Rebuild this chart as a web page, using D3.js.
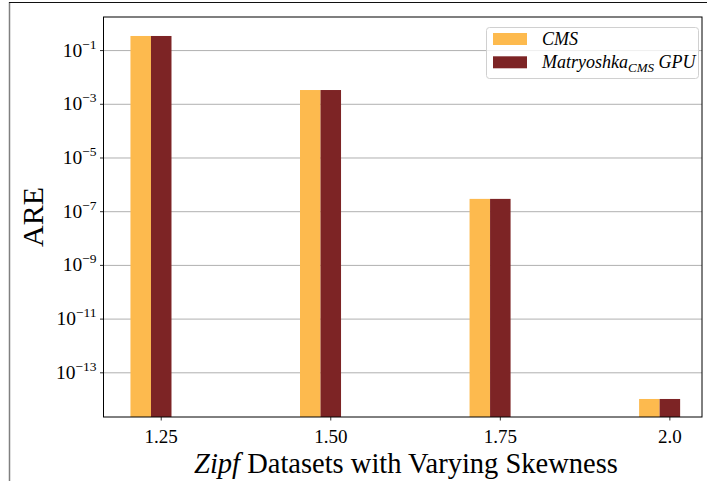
<!DOCTYPE html>
<html lang="en">
<head>
<meta charset="UTF-8">
<title>ARE vs Zipf skewness</title>
<script src="https://d3js.org/d3.v7.min.js"></script>
<style>
  body { margin: 0; background: #fff; }
  svg { display: block; }
  text { font-family: "Liberation Serif", "DejaVu Serif", serif; fill: #000; }
  .grid line { stroke: #b0b0b0; stroke-width: 1; }
</style>
</head>
<body>
<div id="chart"></div>
<script>
// Data
const categories = ['1.25', '1.50', '1.75', '2.0'];
const cmsValues = [0.35, 0.0034, 3.0e-7, 1.06e-14];
const matryoshkaValues = [0.35, 0.0034, 3.0e-7, 1.06e-14];
const yTickExponents = [-1, -3, -5, -7, -9, -11, -13];
const seriesNames = ['CMS', 'Matryoshka'];
const seriesColors = ['#fdba4e', '#7d2425'];

const width = 707, height = 481;
const plot = { left: 103.5, right: 702, top: 17, bottom: 417 };
const barW = 0.121; // in category units

const svg = d3.select('#chart').append('svg')
  .attr('width', width).attr('height', height);

// outer frame of the screenshot
svg.append('line').attr('x1', 9.5).attr('x2', 9.5).attr('y1', 2).attr('y2', height)
  .attr('stroke', '#808080').attr('stroke-width', 1.5);
svg.append('line').attr('x1', 9).attr('x2', width).attr('y1', 2.5).attr('y2', 2.5)
  .attr('stroke', '#111').attr('stroke-width', 1.2);

const x = d3.scaleLinear().domain([-0.28, 3.25]).range([plot.left, plot.right]);
const y = d3.scaleLog().domain([Math.pow(10, -14.646), Math.pow(10, 0.251)]).range([plot.bottom, plot.top]);

const yTicks = yTickExponents.map(e => Math.pow(10, e));

// gridlines
svg.append('g').attr('class', 'grid')
  .selectAll('line').data(yTicks).enter().append('line')
  .attr('x1', plot.left).attr('x2', plot.right)
  .attr('y1', d => y(d)).attr('y2', d => y(d));

// bars
const series = [cmsValues, matryoshkaValues];
series.forEach((vals, s) => {
  svg.append('g').selectAll('rect').data(vals).enter().append('rect')
    .attr('x', (d, i) => x(i + (s - 1) * barW))
    .attr('width', x(barW) - x(0))
    .attr('y', d => y(d))
    .attr('height', d => plot.bottom - y(d))
    .attr('fill', seriesColors[s]);
});

// spines
svg.append('rect')
  .attr('x', plot.left).attr('y', plot.top)
  .attr('width', plot.right - plot.left).attr('height', plot.bottom - plot.top)
  .attr('fill', 'none').attr('stroke', '#000').attr('stroke-width', 1);

// y axis ticks + labels
const yAxis = svg.append('g');
yTicks.forEach((t, k) => {
  const yy = y(t);
  yAxis.append('line').attr('x1', plot.left - 3.5).attr('x2', plot.left)
    .attr('y1', yy).attr('y2', yy).attr('stroke', '#000').attr('stroke-width', 0.8);
  const txt = yAxis.append('text').attr('x', plot.left - 7).attr('y', yy + 6)
    .attr('text-anchor', 'end').style('font-size', '19.5px');
  txt.append('tspan').text('10');
  txt.append('tspan').attr('dy', -8).style('font-size', '13.5px').text('\u2212' + Math.abs(yTickExponents[k]));
});

// x axis ticks + labels (tick sits at the centre of the second bar)
const xAxis = svg.append('g');
categories.forEach((c, i) => {
  const xx = x(i + barW / 2);
  xAxis.append('line').attr('x1', xx).attr('x2', xx)
    .attr('y1', plot.bottom).attr('y2', plot.bottom + 3.5)
    .attr('stroke', '#000').attr('stroke-width', 0.8);
  xAxis.append('text').attr('x', xx).attr('y', plot.bottom + 26)
    .attr('text-anchor', 'middle').style('font-size', '19px').text(c);
});

// axis titles
svg.append('text')
  .attr('transform', 'translate(43,' + ((plot.top + plot.bottom) / 2) + ') rotate(-90)')
  .attr('text-anchor', 'middle').style('font-size', '30px').text('ARE');

const xt = svg.append('text').attr('x', 406).attr('y', 473)
  .attr('text-anchor', 'middle').style('font-size', '28.5px');
xt.append('tspan').style('font-style', 'italic').text('Zipf');
xt.append('tspan').text(' Datasets with Varying Skewness');

// legend
const lg = svg.append('g');
lg.append('rect').attr('x', 486.5).attr('y', 27.5).attr('width', 212).attr('height', 51)
  .attr('rx', 3).attr('fill', '#fff').attr('fill-opacity', 0.8)
  .attr('stroke', '#d0d0d0').attr('stroke-width', 1);
seriesNames.forEach((n, s) => {
  const yy = 33 + s * 23.3;
  lg.append('rect').attr('x', 493).attr('y', yy).attr('width', 34).attr('height', 12)
    .attr('fill', seriesColors[s]);
  const t = lg.append('text').attr('x', 542).attr('y', yy + 12)
    .style('font-size', '18px').style('font-style', 'italic');
  t.append('tspan').text(n);
  if (s === 1) {
    t.append('tspan').attr('dy', 4).style('font-size', '13px').text('CMS');
    t.append('tspan').attr('dy', -4).text(' GPU');
  }
});
</script>
</body>
</html>
